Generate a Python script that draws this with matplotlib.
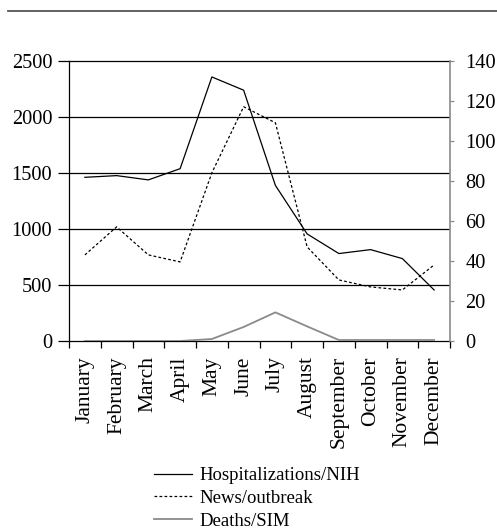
import matplotlib
matplotlib.use("Agg")
import matplotlib.pyplot as plt
from matplotlib.lines import Line2D
import numpy as np

months = ["January", "February", "March", "April", "May", "June", "July",
          "August", "September", "October", "November", "December"]
hospitalizations = [1460, 1475, 1437, 1537, 2355, 2237, 1388, 955, 780, 815, 735, 455]
news = [43, 57, 43, 39.5, 84, 117, 109, 47, 30.5, 27, 25.5, 38]
deaths = [0, 0, 0, 0, 1, 7, 14.3, 7.3, 0.5, 0.5, 0.5, 0.5]
left_ticks = [0, 500, 1000, 1500, 2000, 2500]
right_ticks = [0, 20, 40, 60, 80, 100, 120, 140]

plt.rcParams['font.family'] = ['Liberation Serif', 'DejaVu Serif']

W, H = 497, 532
fig = plt.figure(figsize=(W / 100, H / 100), dpi=100)
ax = fig.add_axes([69 / W, 1 - 341 / H, (450 - 69) / W, (341 - 60.7) / H])
ax2 = ax.twinx()

x = np.arange(len(months))
ax.plot(x, hospitalizations, color='black', lw=0.9)
ax2.plot(x, news, color='black', lw=0.9, dashes=(2.2, 1.8))
ax2.plot(x, deaths, color='#8a8a8a', lw=1.3)

ax.set_xlim(-0.5, 11.5)
ax.set_ylim(0, 2500)
ax2.set_ylim(0, 140)

for y in left_ticks[1:-1]:
    ax.axhline(y, color='black', lw=0.9, zorder=0)

ax.set_yticks(left_ticks)
ax.tick_params(axis='y', direction='out', length=8, width=0.9, labelsize=14.7, pad=4, color='black')
ax2.set_yticks(right_ticks)
ax2.tick_params(axis='y', direction='out', length=3, width=0.9, labelsize=14.7, pad=8, color='#8a8a8a')

ax.set_xticks(x)
ax.set_xticklabels(months, rotation=90, fontsize=15.5)
ax.tick_params(axis='x', which='major', length=0, pad=11)
ax.set_xticks(np.arange(-0.5, 12, 1), minor=True)
ax.tick_params(axis='x', which='minor', direction='out', length=5, width=0.9, color='black')

for s in ['left', 'top', 'bottom']:
    ax.spines[s].set_color('black')
    ax.spines[s].set_linewidth(0.9)
ax.spines['right'].set_visible(False)
for s in ['left', 'top', 'bottom']:
    ax2.spines[s].set_visible(False)
ax2.spines['right'].set_color('#8a8a8a')
ax2.spines['right'].set_linewidth(1.2)

handles = [Line2D([], [], color='black', lw=0.9),
           Line2D([], [], color='black', lw=0.9, dashes=(2.2, 1.8)),
           Line2D([], [], color='#8a8a8a', lw=1.3)]
labels = ["Hospitalizations/NIH", "News/outbreak", "Deaths/SIM"]
fig.legend(handles, labels, loc='upper left', bbox_to_anchor=(154 / W, 1 - 467 / H),
           frameon=False, fontsize=13.5, handlelength=2.0, handletextpad=0.4,
           labelspacing=0.3, borderpad=0, borderaxespad=0)

fig.add_artist(Line2D([8 / W, 1], [1 - 11 / H, 1 - 11 / H], color='#555555', lw=1.3))

fig.savefig("out.png", dpi=100)
